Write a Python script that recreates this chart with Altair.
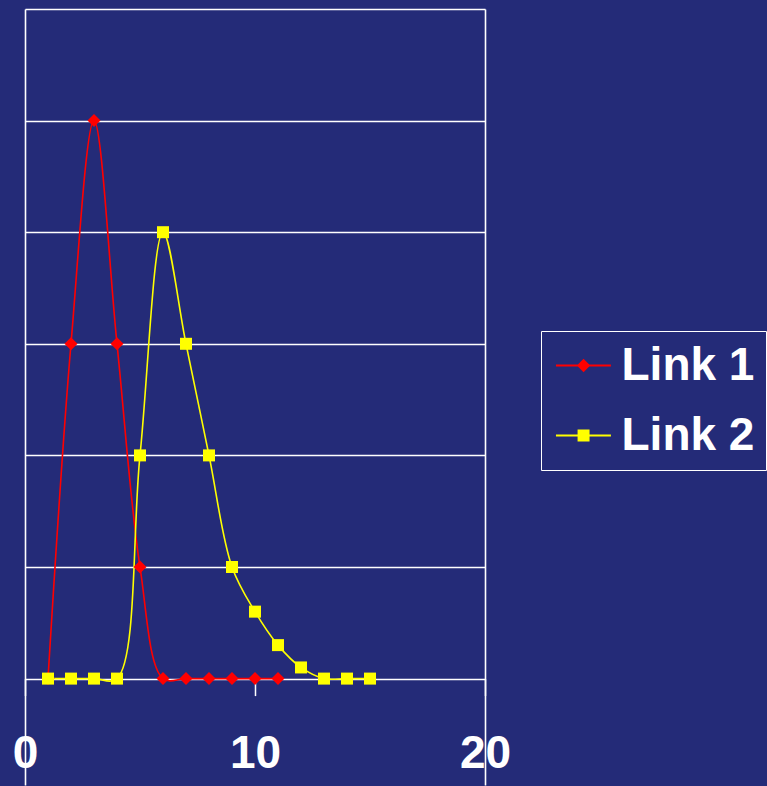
import altair as alt
import pandas as pd

# Series values
link1_x = list(range(1, 12))
link1_y = [0, 3, 5, 3, 1, 0, 0, 0, 0, 0, 0]
link2_x = list(range(1, 16))
link2_y = [0, 0, 0, 0, 2, 4, 3, 2, 1, 0.6, 0.3, 0.1, 0, 0, 0]

series_names = ["Link 1", "Link 2"]
series_colors = ["#FF0000", "#FFFF00"]
marker_shapes = ["diamond", "square"]
marker_sizes = [170, 144]
# legend glyphs: a short horizontal line with the series marker on it
legend_glyphs = [
    "M-0.85,-0.045H1.54V0.045H-0.85Z M0.35,-0.29L0.64,0L0.35,0.29L0.06,0Z",
    "M-0.85,-0.045H1.54V0.045H-0.85Z M0.09,-0.26H0.61V0.26H0.09Z",
]

x_ticks = [0, 10, 20]
y_grid = [0, 1, 2, 3, 4, 5, 6]

BG = "#242B78"
FONT = "Liberation Sans"

df = pd.concat([
    pd.DataFrame({"series": series_names[0], "x": link1_x, "y": link1_y}),
    pd.DataFrame({"series": series_names[1], "x": link2_x, "y": link2_y}),
])
legend_df = pd.DataFrame({"series": series_names})

H = 776
ppu = 111.6  # pixels per y unit
y_bottom = 6 - H / ppu
zero_from_bottom = H - 6 * ppu

x_scale = alt.Scale(domain=[0, 20], nice=False, zero=False)
y_scale = alt.Scale(domain=[y_bottom, 6], nice=False, zero=False)
color_scale = alt.Scale(domain=series_names, range=series_colors)

x_enc = alt.X(
    "x:Q",
    scale=x_scale,
    axis=alt.Axis(
        values=x_ticks,
        title=None,
        orient="bottom",
        offset=-zero_from_bottom,
        domain=False,
        grid=True,
        gridColor=alt.condition("datum.value === 10", alt.value("transparent"), alt.value("white")),
        gridWidth=1.6,
        ticks=True,
        tickColor="white",
        tickSize=17,
        tickWidth=1.5,
        labelFont=FONT,
        labelFontSize=46,
        labelFontWeight="bold",
        labelColor="white",
        labelFlush=False,
        labelOverlap=False,
        labelBaseline="alphabetic",
        labelPadding=72,
    ),
)
y_enc = alt.Y(
    "y:Q",
    scale=y_scale,
    axis=alt.Axis(
        values=y_grid,
        title=None,
        labels=False,
        ticks=False,
        domain=False,
        grid=True,
        gridColor="white",
        gridWidth=1.6,
    ),
)

base = alt.Chart(df)

lines = base.mark_line(interpolate="catmull-rom", strokeWidth=1.6).encode(
    x=x_enc,
    y=y_enc,
    color=alt.Color("series:N", scale=color_scale, legend=None),
)

points = base.mark_point(filled=True, opacity=1, strokeWidth=0).encode(
    x=alt.X("x:Q", scale=x_scale),
    y=alt.Y("y:Q", scale=y_scale),
    fill=alt.Fill("series:N", scale=color_scale, legend=None),
    shape=alt.Shape("series:N", scale=alt.Scale(domain=series_names, range=marker_shapes), legend=None),
    size=alt.Size("series:N", scale=alt.Scale(domain=series_names, range=marker_sizes), legend=None),
)

legend_props = dict(
    title=None,
    orient="none",
    legendX=516,
    legendY=322,
    strokeColor="white",
    padding=11.5,
    rowPadding=24,
    symbolSize=2116,
    symbolOpacity=1,
    symbolStrokeWidth=0,
    labelFont=FONT,
    labelFontSize=46,
    labelFontWeight="bold",
    labelColor="white",
    labelOffset=23,
)

legend_layer = alt.Chart(legend_df).mark_point(filled=True, opacity=0, size=2116).encode(
    fill=alt.Fill("series:N", scale=color_scale, legend=alt.Legend(**legend_props)),
    shape=alt.Shape("series:N", scale=alt.Scale(domain=series_names, range=legend_glyphs),
                    legend=alt.Legend(**legend_props)),
)

chart = (
    alt.layer(lines, points, legend_layer)
    .resolve_scale(shape="independent", size="independent")
    .resolve_legend(fill="independent", shape="independent")
    .properties(
        width=460,
        height=H,
        padding={"left": 25, "top": 9, "right": 282, "bottom": 1},
        autosize=alt.AutoSizeParams(type="none"),
        background=BG,
    )
    .configure_view(stroke=None, fill=BG)
)

chart.save("out.html", embed_options={"renderer": "svg", "actions": False})
